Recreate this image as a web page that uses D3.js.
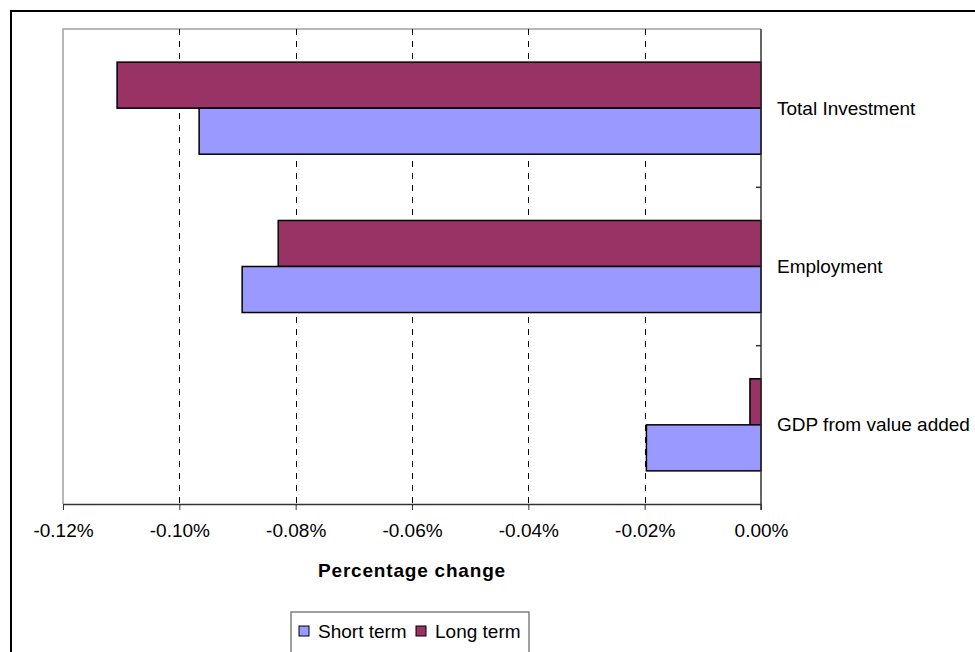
<!DOCTYPE html>
<html>
<head>
<meta charset="utf-8">
<script src="https://cdn.jsdelivr.net/npm/d3@7"></script>
<style>
  html, body { margin: 0; padding: 0; background: #fff; }
  svg { display: block; font-family: "Liberation Sans", Arial, sans-serif; }
</style>
</head>
<body>
<svg id="chart" width="975" height="652"></svg>
<script>
// Categories, top to bottom
const categories = ["Total Investment", "Employment", "GDP from value added"];
// Series (percentage change, in %)
const seriesNames = ["Long term", "Short term"];
const longTerm  = [-0.1107, -0.0830, -0.0019];
const shortTerm = [-0.0966, -0.0892, -0.0197];
// Axis ticks (in %)
const xTicks = [-0.12, -0.10, -0.08, -0.06, -0.04, -0.02, 0.00];
const legendNames = ["Short term", "Long term"];

const colors = { "Short term": "#9999FF", "Long term": "#993366" };

const svg = d3.select("#chart");
const plot = { left: 63, right: 761, top: 29, bottom: 504 };

// outer frame
svg.append("rect")
  .attr("x", 11).attr("y", 11)
  .attr("width", 1100).attr("height", 800)
  .attr("fill", "none").attr("stroke", "#000").attr("stroke-width", 2);

const x = d3.scaleLinear().domain([-0.12, 0]).range([plot.left, plot.right]);
const y = d3.scaleBand().domain(categories).range([plot.top, plot.bottom]).padding(0);
const ySub = d3.scaleBand().domain(seriesNames).range([0, y.bandwidth()])
  .paddingInner(0).paddingOuter(0.72);

const loc = d3.formatLocale({ decimal: ".", thousands: ",", grouping: [3], currency: ["", ""], minus: "-" });
const fmt = v => loc.format(".2f")(v) + "%";

// plot area border (top & left)
svg.append("path")
  .attr("d", `M${plot.left},${plot.bottom} V${plot.top} H${plot.right}`)
  .attr("fill", "none").attr("stroke", "#a0a0a0").attr("stroke-width", 1.5);

// dashed gridlines
svg.append("g").selectAll("line")
  .data(xTicks.filter(t => t > -0.12 && t < 0))
  .join("line")
  .attr("x1", d => Math.round(x(d)) + 0.5).attr("x2", d => Math.round(x(d)) + 0.5)
  .attr("y1", plot.top).attr("y2", plot.bottom)
  .attr("stroke", "#000").attr("stroke-width", 1)
  .attr("stroke-dasharray", "6,6");

// bars
const rows = categories.map((c, i) => ({ cat: c, values: { "Long term": longTerm[i], "Short term": shortTerm[i] } }));
const gRows = svg.append("g").selectAll("g").data(rows).join("g")
  .attr("transform", d => `translate(0,${y(d.cat)})`);
gRows.selectAll("rect")
  .data(d => seriesNames.map(s => ({ s, v: d.values[s] })))
  .join("rect")
  .attr("x", d => x(d.v))
  .attr("width", d => x(0) - x(d.v))
  .attr("y", d => ySub(d.s))
  .attr("height", ySub.bandwidth())
  .attr("fill", d => colors[d.s])
  .attr("stroke", "#000").attr("stroke-width", 1.5);

// x axis
const xAxis = svg.append("g")
  .attr("transform", `translate(0,${plot.bottom})`)
  .call(d3.axisBottom(x).tickValues(xTicks).tickFormat(fmt).tickSize(6).tickPadding(14).tickSizeOuter(0));
xAxis.select(".domain").attr("stroke", "#333").attr("stroke-width", 1.5);
xAxis.selectAll(".tick line").attr("stroke", "#333");
xAxis.selectAll("text").attr("font-size", 19).attr("fill", "#000")
  .attr("font-family", "Liberation Sans, Arial, sans-serif");

// category axis on the right (at zero)
const yAxis = svg.append("g")
  .attr("transform", `translate(${plot.right},0)`);
yAxis.append("line")
  .attr("x1", 0).attr("x2", 0).attr("y1", plot.top).attr("y2", plot.bottom + 6)
  .attr("stroke", "#333").attr("stroke-width", 1.5);
yAxis.selectAll("line.tk")
  .data(categories.slice(1))
  .join("line").attr("class", "tk")
  .attr("x1", -5).attr("x2", 0)
  .attr("y1", d => y(d)).attr("y2", d => y(d))
  .attr("stroke", "#333").attr("stroke-width", 1.5);
yAxis.selectAll("text")
  .data(categories)
  .join("text")
  .attr("x", 16)
  .attr("y", d => y(d) + y.bandwidth() / 2)
  .attr("dy", "0.35em")
  .attr("font-size", 19)
  .text(d => d);

// axis title
svg.append("text")
  .attr("x", (plot.left + plot.right) / 2)
  .attr("y", 577)
  .attr("text-anchor", "middle")
  .attr("font-size", 19).attr("font-weight", "bold")
  .attr("letter-spacing", "0.8")
  .text("Percentage change");

// legend
const lg = svg.append("g").attr("transform", "translate(291,612)");
lg.append("rect").attr("x", 0).attr("y", 0).attr("width", 238).attr("height", 42)
  .attr("fill", "#fff").attr("stroke", "#808080").attr("stroke-width", 1.5);
const legendX = [8, 125];
legendNames.forEach((n, i) => {
  lg.append("rect").attr("x", legendX[i]).attr("y", 14).attr("width", 10).attr("height", 10)
    .attr("fill", colors[n]).attr("stroke", "#000").attr("stroke-width", 1);
  lg.append("text").attr("x", legendX[i] + 19).attr("y", 19).attr("dy", "0.35em")
    .attr("font-size", 19).text(n);
});
</script>
</body>
</html>
